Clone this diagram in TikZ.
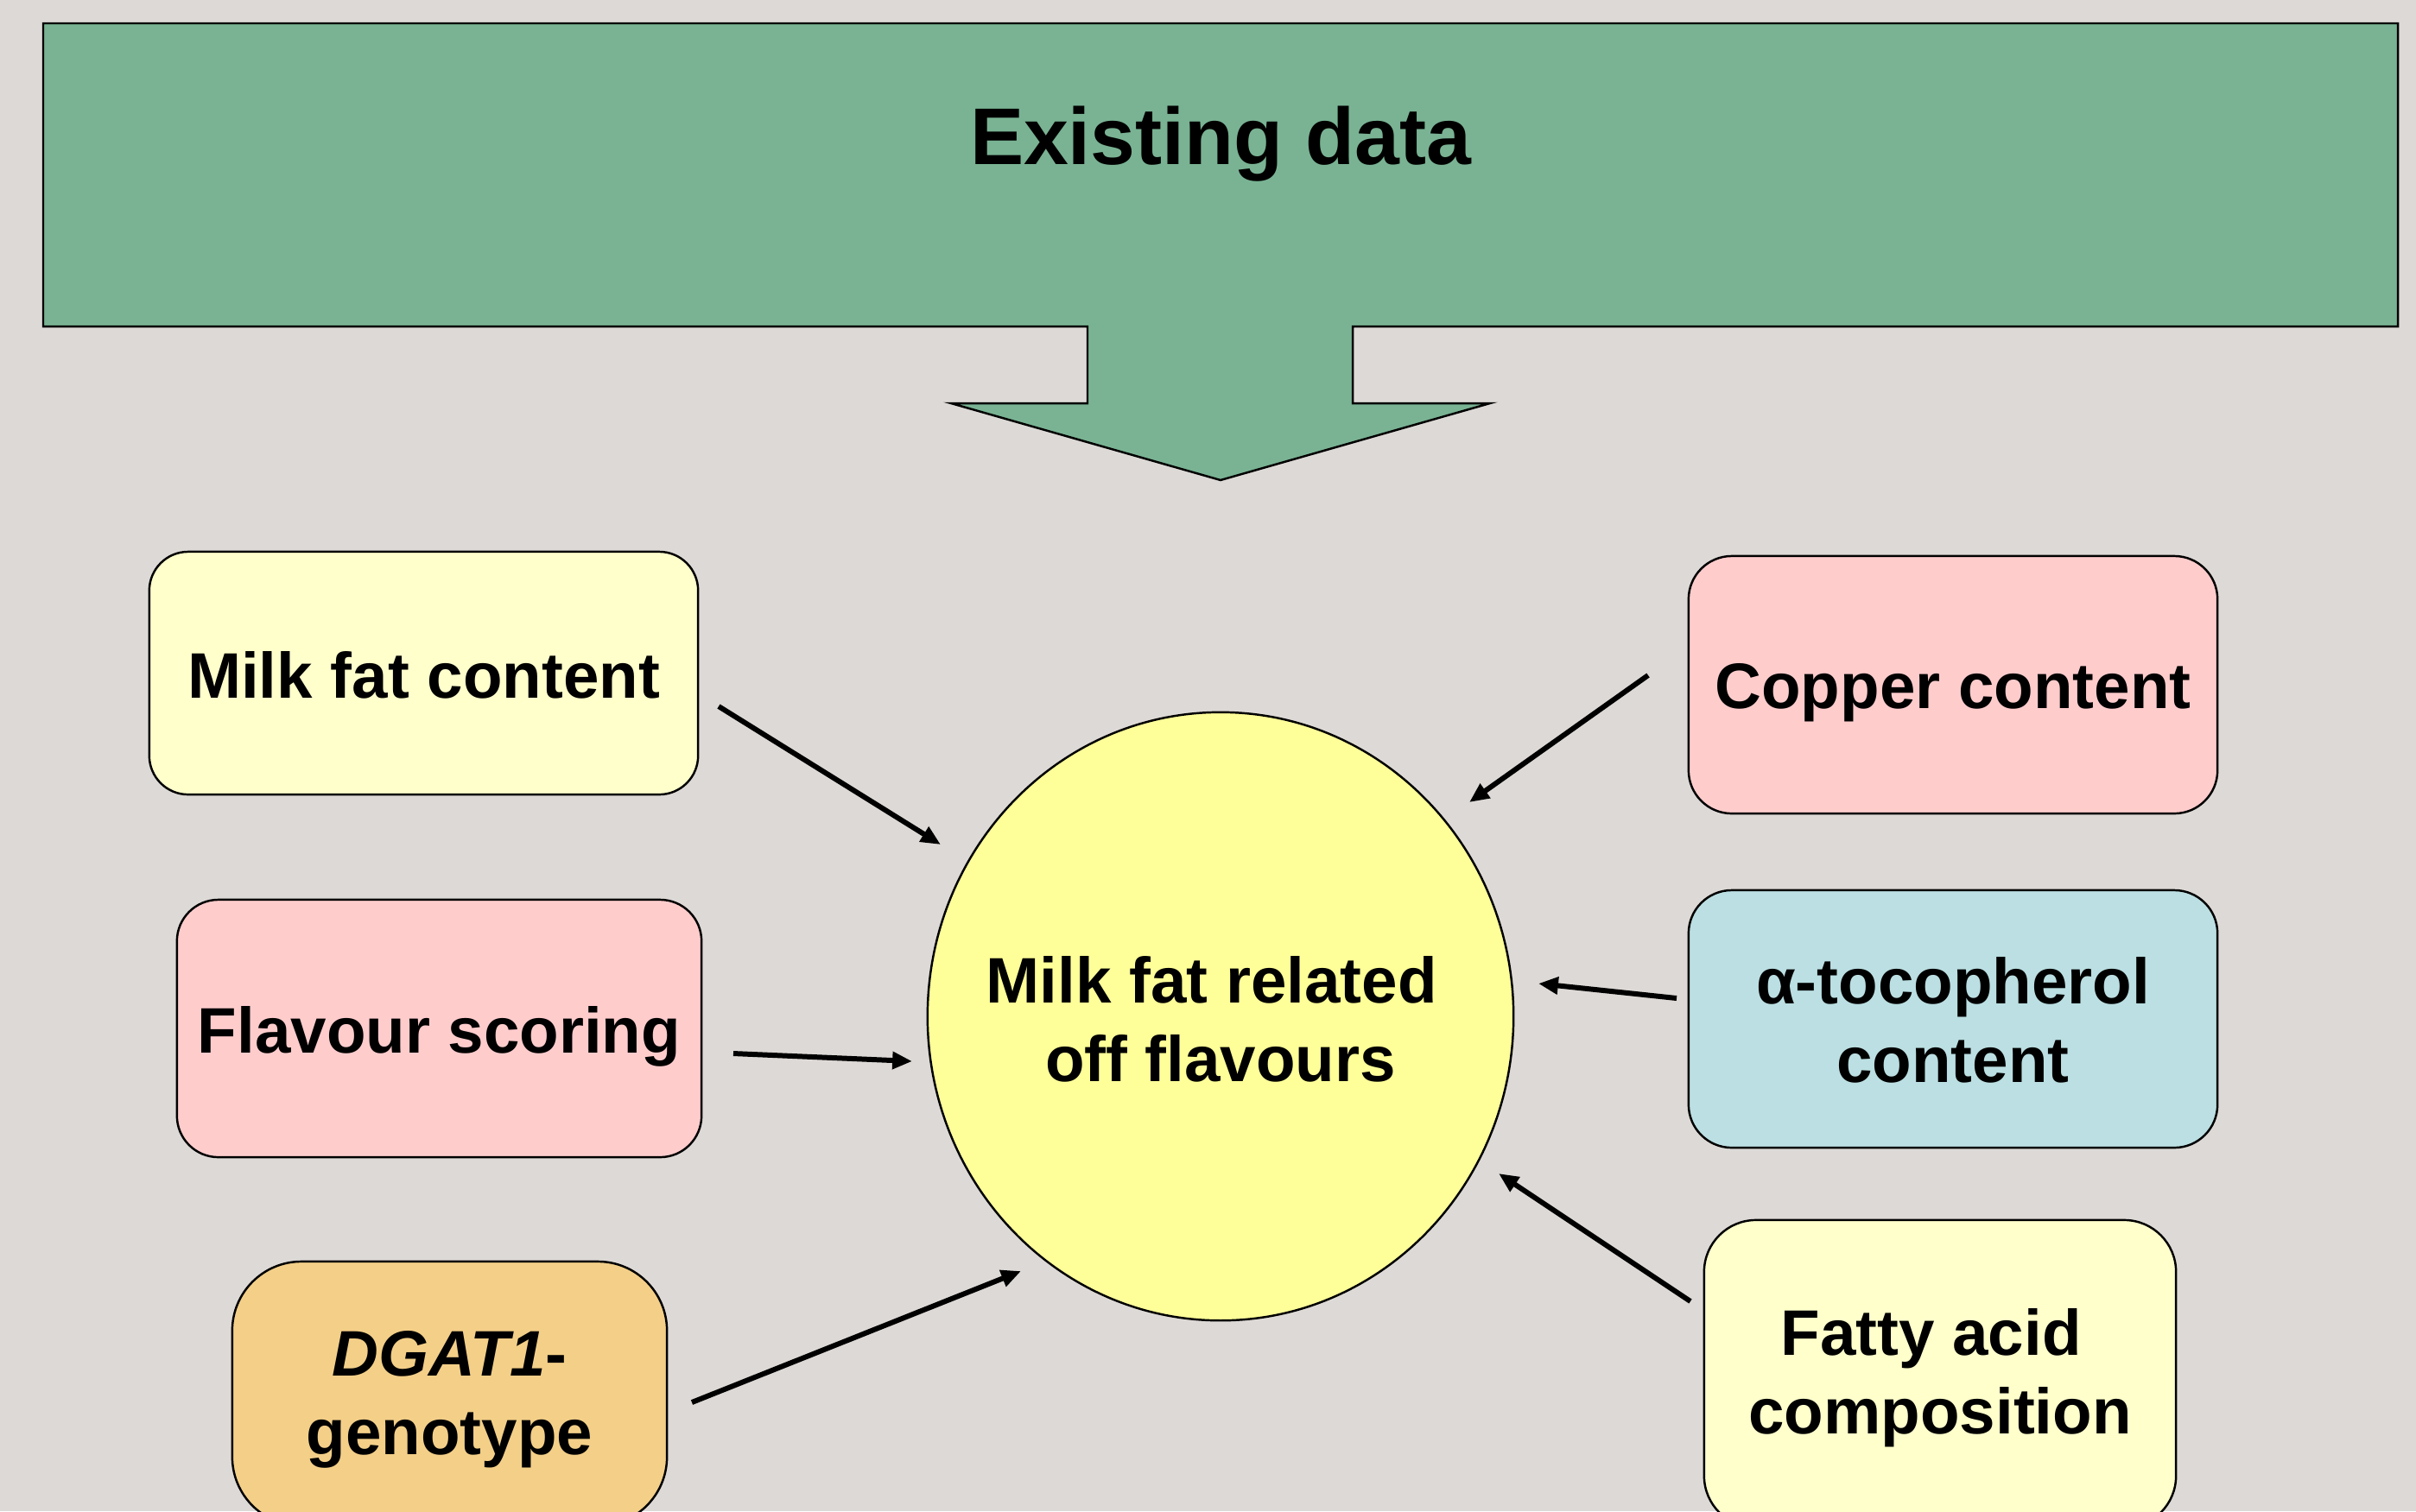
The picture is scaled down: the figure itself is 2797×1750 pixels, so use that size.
\documentclass[tikz,border=0pt]{standalone}
\usepackage{fontspec}
\setmainfont{Liberation Sans}
\usetikzlibrary{shapes.geometric,arrows.meta}
\definecolor{bgc}{RGB}{221,217,214}
\definecolor{greenc}{RGB}{121,179,147}
\definecolor{lyel}{RGB}{255,255,204}
\definecolor{pinkc}{RGB}{255,204,204}
\definecolor{circc}{RGB}{255,255,153}
\definecolor{bluec}{RGB}{187,223,226}
\definecolor{orc}{RGB}{243,207,136}
\tikzset{
  box/.style={draw=black, line width=0.7pt, rounded corners=#1, inner sep=0pt, outer sep=0pt},
  lbl/.style={inner sep=0pt, align=center, font=\fontsize{21.2}{25.9}\selectfont\bfseries},
  conn/.style={line width=1.7pt, -{Triangle[length=6.5pt,width=5.5pt]}},
}
\begin{document}
\begin{tikzpicture}[x=0.01cm,y=-0.01cm]
\fill[bgc] (0,0) rectangle (2797,1750);
\useasboundingbox (0,0) rectangle (2797,1750);
% banner with arrow
\draw[fill=greenc, line width=0.7pt] (50,27) -- (2776,27) -- (2776,378) -- (1566,378) -- (1566,467)
  -- (1725,467) -- (1413,556) -- (1101,467) -- (1259,467) -- (1259,378) -- (50,378) -- cycle;
\node[inner sep=0pt, font=\fontsize{26.5}{32}\selectfont\bfseries] (ex) at (1413,167) {Existing data};
% centre
\node[draw=black, line width=0.7pt, fill=circc, ellipse, minimum width=6.78cm, minimum height=7.04cm,
  inner sep=0pt] (c) at (1413,1177) {};
\node[lbl] (ct) at (1413,1180) {Milk fat related\kern0.278em\null\\off flavours};
% boxes
\node[box=0.45cm, fill=lyel, minimum width=6.35cm, minimum height=2.81cm] (mf) at (490.5,779.5) {};
\node[lbl] (mft) at (490.5,781.5) {Milk fat content};
\node[box=0.48cm, fill=pinkc, minimum width=6.07cm, minimum height=2.98cm] (fl) at (508.5,1191) {};
\node[lbl] (flt) at (508.5,1200) {Flavour scoring};
\node[box=0.8cm, fill=orc, minimum width=5.03cm, minimum height=3.06cm] (dg) at (520.5,1614) {};
\node[lbl] (dgt) at (520.5,1621) {\textit{DGAT1}-\\genotype};
\node[box=0.5cm, fill=pinkc, minimum width=6.12cm, minimum height=2.98cm] (cu) at (2261,793) {};
\node[lbl] (cut) at (2261,802) {Copper content};
\node[box=0.5cm, fill=bluec, minimum width=6.12cm, minimum height=2.98cm] (al) at (2261,1180) {};
\node[lbl] (alt) at (2261,1181) {α-tocopherol\\content};
\node[box=0.6cm, fill=lyel, minimum width=5.46cm, minimum height=3.56cm] (fa) at (2246,1591) {};
\node[lbl] (fat) at (2246,1596) {Fatty acid\kern0.278em\null\\composition};
% connector end points
\coordinate (mfs) at (832,818);   \coordinate (mfe) at (1089,978);
\coordinate (cus) at (1908,782);  \coordinate (cue) at (1701,929);
\coordinate (fls) at (849,1220);  \coordinate (fle) at (1056,1229);
\coordinate (als) at (1941,1156); \coordinate (ale) at (1781,1139);
\coordinate (dgs) at (801,1624);  \coordinate (dge) at (1182,1472);
\coordinate (fas) at (1957,1507); \coordinate (fae) at (1735,1359);
\draw[conn] (mfs) -- (mfe);
\draw[conn] (cus) -- (cue);
\draw[conn] (fls) -- (fle);
\draw[conn] (als) -- (ale);
\draw[conn] (dgs) -- (dge);
\draw[conn] (fas) -- (fae);
\end{tikzpicture}
\end{document}
